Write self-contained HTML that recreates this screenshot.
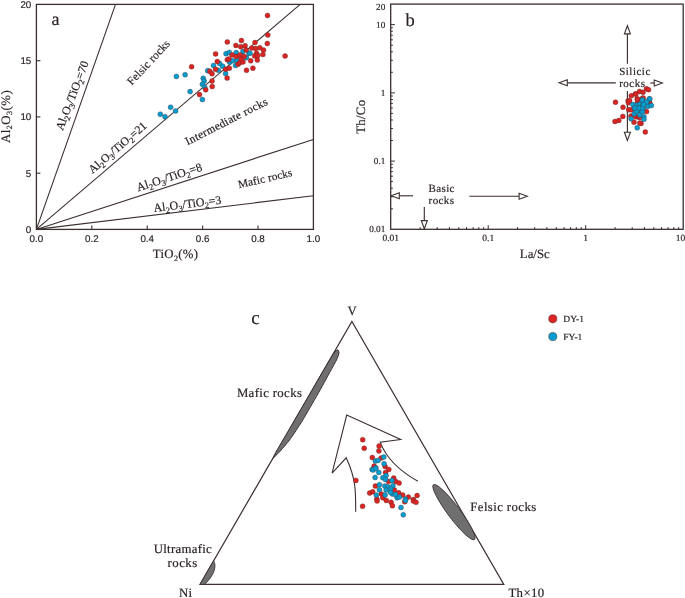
<!DOCTYPE html>
<html><head><meta charset="utf-8"><style>
html,body{margin:0;padding:0;background:#fff;}
svg{display:block;will-change:transform;}
text{text-rendering:geometricPrecision;stroke:#2b2323;stroke-width:0.18px;}

</style></head><body>
<svg width="685" height="598" viewBox="0 0 685 598">
<rect width="685" height="598" fill="#fff"/>
<rect x="36.4" y="4.4" width="277.0" height="225.0" fill="none" stroke="#3b2f2f" stroke-width="1.3"/>
<line x1="91.8" y1="229.4" x2="91.8" y2="225.4" stroke="#3b2f2f" stroke-width="1.1"/>
<line x1="147.2" y1="229.4" x2="147.2" y2="225.4" stroke="#3b2f2f" stroke-width="1.1"/>
<line x1="202.6" y1="229.4" x2="202.6" y2="225.4" stroke="#3b2f2f" stroke-width="1.1"/>
<line x1="258.0" y1="229.4" x2="258.0" y2="225.4" stroke="#3b2f2f" stroke-width="1.1"/>
<line x1="36.4" y1="173.2" x2="40.4" y2="173.2" stroke="#3b2f2f" stroke-width="1.1"/>
<line x1="36.4" y1="116.9" x2="40.4" y2="116.9" stroke="#3b2f2f" stroke-width="1.1"/>
<line x1="36.4" y1="60.7" x2="40.4" y2="60.7" stroke="#3b2f2f" stroke-width="1.1"/>
<line x1="36.4" y1="229.4" x2="115.5" y2="4.4" stroke="#3b2f2f" stroke-width="1.1"/>
<line x1="36.4" y1="229.4" x2="300.2" y2="4.4" stroke="#3b2f2f" stroke-width="1.1"/>
<line x1="36.4" y1="229.4" x2="313.4" y2="139.4" stroke="#3b2f2f" stroke-width="1.1"/>
<line x1="36.4" y1="229.4" x2="313.4" y2="195.7" stroke="#3b2f2f" stroke-width="1.1"/>
<text x="31.3" y="232.9" font-family="Liberation Sans" font-size="9.8" text-anchor="end" fill="#2b2323">0</text>
<text x="31.3" y="176.7" font-family="Liberation Sans" font-size="9.8" text-anchor="end" fill="#2b2323">5</text>
<text x="31.3" y="120.4" font-family="Liberation Sans" font-size="9.8" text-anchor="end" fill="#2b2323">10</text>
<text x="31.3" y="64.2" font-family="Liberation Sans" font-size="9.8" text-anchor="end" fill="#2b2323">15</text>
<text x="31.3" y="7.6" font-family="Liberation Sans" font-size="9.8" text-anchor="end" fill="#2b2323">20</text>
<text x="36.4" y="242" font-family="Liberation Sans" font-size="9.8" text-anchor="middle" fill="#2b2323">0.0</text>
<text x="91.8" y="242" font-family="Liberation Sans" font-size="9.8" text-anchor="middle" fill="#2b2323">0.2</text>
<text x="147.2" y="242" font-family="Liberation Sans" font-size="9.8" text-anchor="middle" fill="#2b2323">0.4</text>
<text x="202.6" y="242" font-family="Liberation Sans" font-size="9.8" text-anchor="middle" fill="#2b2323">0.6</text>
<text x="258.0" y="242" font-family="Liberation Sans" font-size="9.8" text-anchor="middle" fill="#2b2323">0.8</text>
<text x="313.4" y="242" font-family="Liberation Sans" font-size="9.8" text-anchor="middle" fill="#2b2323">1.0</text>
<text x="51.6" y="24.5" font-family="Liberation Serif" font-size="18" fill="#2b2323">a</text>
<text x="175.6" y="258" font-family="Liberation Serif" font-size="12.8" letter-spacing="0.3" text-anchor="middle" fill="#2b2323">TiO<tspan font-size="8" dy="2.5">2</tspan><tspan dy="-2.5">(%)</tspan></text>
<text transform="translate(9.8,116.4) rotate(-90)" font-family="Liberation Serif" font-size="12.8" letter-spacing="0.5" text-anchor="middle" fill="#2b2323">Al<tspan font-size="8" dy="2.5">2</tspan><tspan dy="-2.5">O</tspan><tspan font-size="8" dy="2.5">3</tspan><tspan dy="-2.5">(%)</tspan></text>
<text transform="translate(62.7,131.0) rotate(-69.0)" font-family="Liberation Serif" font-size="11.8" letter-spacing="0" fill="#2b2323">Al<tspan font-size="8.3" dy="2.6">2</tspan><tspan dy="-2.6">O</tspan><tspan font-size="8.3" dy="2.6">3</tspan><tspan dy="-2.6">/TiO</tspan><tspan font-size="8.3" dy="2.6">2</tspan><tspan dy="-2.6">=</tspan><tspan>70</tspan></text>
<text transform="translate(92.5,174.0) rotate(-40.5)" font-family="Liberation Serif" font-size="11.7" letter-spacing="0" fill="#2b2323">Al<tspan font-size="8.2" dy="2.6">2</tspan><tspan dy="-2.6">O</tspan><tspan font-size="8.2" dy="2.6">3</tspan><tspan dy="-2.6">/TiO</tspan><tspan font-size="8.2" dy="2.6">2</tspan><tspan dy="-2.6">=</tspan><tspan>21</tspan></text>
<text transform="translate(138.0,191.5) rotate(-18.0)" font-family="Liberation Serif" font-size="12.0" letter-spacing="0" fill="#2b2323">Al<tspan font-size="8.4" dy="2.6">2</tspan><tspan dy="-2.6">O</tspan><tspan font-size="8.4" dy="2.6">3</tspan><tspan dy="-2.6">/TiO</tspan><tspan font-size="8.4" dy="2.6">2</tspan><tspan dy="-2.6">=</tspan><tspan>8</tspan></text>
<text transform="translate(154.0,212.0) rotate(-7.0)" font-family="Liberation Serif" font-size="12.0" letter-spacing="0" fill="#2b2323">Al<tspan font-size="8.4" dy="2.6">2</tspan><tspan dy="-2.6">O</tspan><tspan font-size="8.4" dy="2.6">3</tspan><tspan dy="-2.6">/TiO</tspan><tspan font-size="8.4" dy="2.6">2</tspan><tspan dy="-2.6">=</tspan><tspan>3</tspan></text>
<text transform="translate(131.8,85.8) rotate(-47)" font-family="Liberation Serif" font-size="11.5" letter-spacing="0.15" fill="#2b2323">Felsic rocks</text>
<text transform="translate(187.6,145.3) rotate(-27)" font-family="Liberation Serif" font-size="11.5" letter-spacing="0.28" fill="#2b2323">Intermediate rocks</text>
<text transform="translate(239,188.3) rotate(-13)" font-family="Liberation Serif" font-size="11.2" letter-spacing="0.15" fill="#2b2323">Mafic rocks</text>
<rect x="390.7" y="4.1" width="292.5" height="225.2" fill="none" stroke="#3b2f2f" stroke-width="1.3"/>
<line x1="420.1" y1="229.3" x2="420.1" y2="227.10000000000002" stroke="#3b2f2f" stroke-width="1"/>
<line x1="390.7" y1="208.8" x2="392.9" y2="208.8" stroke="#3b2f2f" stroke-width="1"/>
<line x1="437.2" y1="229.3" x2="437.2" y2="227.10000000000002" stroke="#3b2f2f" stroke-width="1"/>
<line x1="390.7" y1="196.8" x2="392.9" y2="196.8" stroke="#3b2f2f" stroke-width="1"/>
<line x1="449.4" y1="229.3" x2="449.4" y2="227.10000000000002" stroke="#3b2f2f" stroke-width="1"/>
<line x1="390.7" y1="188.2" x2="392.9" y2="188.2" stroke="#3b2f2f" stroke-width="1"/>
<line x1="458.8" y1="229.3" x2="458.8" y2="227.10000000000002" stroke="#3b2f2f" stroke-width="1"/>
<line x1="390.7" y1="181.6" x2="392.9" y2="181.6" stroke="#3b2f2f" stroke-width="1"/>
<line x1="466.6" y1="229.3" x2="466.6" y2="227.10000000000002" stroke="#3b2f2f" stroke-width="1"/>
<line x1="390.7" y1="176.2" x2="392.9" y2="176.2" stroke="#3b2f2f" stroke-width="1"/>
<line x1="473.1" y1="229.3" x2="473.1" y2="227.10000000000002" stroke="#3b2f2f" stroke-width="1"/>
<line x1="390.7" y1="171.6" x2="392.9" y2="171.6" stroke="#3b2f2f" stroke-width="1"/>
<line x1="478.8" y1="229.3" x2="478.8" y2="227.10000000000002" stroke="#3b2f2f" stroke-width="1"/>
<line x1="390.7" y1="167.7" x2="392.9" y2="167.7" stroke="#3b2f2f" stroke-width="1"/>
<line x1="483.7" y1="229.3" x2="483.7" y2="227.10000000000002" stroke="#3b2f2f" stroke-width="1"/>
<line x1="390.7" y1="164.2" x2="392.9" y2="164.2" stroke="#3b2f2f" stroke-width="1"/>
<line x1="488.2" y1="229.3" x2="488.2" y2="225.10000000000002" stroke="#3b2f2f" stroke-width="1"/>
<line x1="390.7" y1="161.1" x2="394.9" y2="161.1" stroke="#3b2f2f" stroke-width="1"/>
<line x1="517.6" y1="229.3" x2="517.6" y2="227.10000000000002" stroke="#3b2f2f" stroke-width="1"/>
<line x1="390.7" y1="140.5" x2="392.9" y2="140.5" stroke="#3b2f2f" stroke-width="1"/>
<line x1="534.7" y1="229.3" x2="534.7" y2="227.10000000000002" stroke="#3b2f2f" stroke-width="1"/>
<line x1="390.7" y1="128.5" x2="392.9" y2="128.5" stroke="#3b2f2f" stroke-width="1"/>
<line x1="546.9" y1="229.3" x2="546.9" y2="227.10000000000002" stroke="#3b2f2f" stroke-width="1"/>
<line x1="390.7" y1="120.0" x2="392.9" y2="120.0" stroke="#3b2f2f" stroke-width="1"/>
<line x1="556.3" y1="229.3" x2="556.3" y2="227.10000000000002" stroke="#3b2f2f" stroke-width="1"/>
<line x1="390.7" y1="113.4" x2="392.9" y2="113.4" stroke="#3b2f2f" stroke-width="1"/>
<line x1="564.1" y1="229.3" x2="564.1" y2="227.10000000000002" stroke="#3b2f2f" stroke-width="1"/>
<line x1="390.7" y1="108.0" x2="392.9" y2="108.0" stroke="#3b2f2f" stroke-width="1"/>
<line x1="570.6" y1="229.3" x2="570.6" y2="227.10000000000002" stroke="#3b2f2f" stroke-width="1"/>
<line x1="390.7" y1="103.4" x2="392.9" y2="103.4" stroke="#3b2f2f" stroke-width="1"/>
<line x1="576.3" y1="229.3" x2="576.3" y2="227.10000000000002" stroke="#3b2f2f" stroke-width="1"/>
<line x1="390.7" y1="99.5" x2="392.9" y2="99.5" stroke="#3b2f2f" stroke-width="1"/>
<line x1="581.2" y1="229.3" x2="581.2" y2="227.10000000000002" stroke="#3b2f2f" stroke-width="1"/>
<line x1="390.7" y1="96.0" x2="392.9" y2="96.0" stroke="#3b2f2f" stroke-width="1"/>
<line x1="585.7" y1="229.3" x2="585.7" y2="225.10000000000002" stroke="#3b2f2f" stroke-width="1"/>
<line x1="390.7" y1="92.9" x2="394.9" y2="92.9" stroke="#3b2f2f" stroke-width="1"/>
<line x1="615.1" y1="229.3" x2="615.1" y2="227.10000000000002" stroke="#3b2f2f" stroke-width="1"/>
<line x1="390.7" y1="72.3" x2="392.9" y2="72.3" stroke="#3b2f2f" stroke-width="1"/>
<line x1="632.2" y1="229.3" x2="632.2" y2="227.10000000000002" stroke="#3b2f2f" stroke-width="1"/>
<line x1="390.7" y1="60.3" x2="392.9" y2="60.3" stroke="#3b2f2f" stroke-width="1"/>
<line x1="644.4" y1="229.3" x2="644.4" y2="227.10000000000002" stroke="#3b2f2f" stroke-width="1"/>
<line x1="390.7" y1="51.8" x2="392.9" y2="51.8" stroke="#3b2f2f" stroke-width="1"/>
<line x1="653.8" y1="229.3" x2="653.8" y2="227.10000000000002" stroke="#3b2f2f" stroke-width="1"/>
<line x1="390.7" y1="45.2" x2="392.9" y2="45.2" stroke="#3b2f2f" stroke-width="1"/>
<line x1="661.6" y1="229.3" x2="661.6" y2="227.10000000000002" stroke="#3b2f2f" stroke-width="1"/>
<line x1="390.7" y1="39.8" x2="392.9" y2="39.8" stroke="#3b2f2f" stroke-width="1"/>
<line x1="668.1" y1="229.3" x2="668.1" y2="227.10000000000002" stroke="#3b2f2f" stroke-width="1"/>
<line x1="390.7" y1="35.2" x2="392.9" y2="35.2" stroke="#3b2f2f" stroke-width="1"/>
<line x1="673.8" y1="229.3" x2="673.8" y2="227.10000000000002" stroke="#3b2f2f" stroke-width="1"/>
<line x1="390.7" y1="31.2" x2="392.9" y2="31.2" stroke="#3b2f2f" stroke-width="1"/>
<line x1="678.7" y1="229.3" x2="678.7" y2="227.10000000000002" stroke="#3b2f2f" stroke-width="1"/>
<line x1="390.7" y1="27.8" x2="392.9" y2="27.8" stroke="#3b2f2f" stroke-width="1"/>
<line x1="390.7" y1="24.6" x2="394.9" y2="24.6" stroke="#3b2f2f" stroke-width="1"/>
<text x="385.3" y="232.3" font-family="Liberation Serif" font-size="9.2" text-anchor="end" fill="#2b2323">0.01</text>
<text x="385.3" y="164.1" font-family="Liberation Serif" font-size="9.2" text-anchor="end" fill="#2b2323">0.1</text>
<text x="385.3" y="95.9" font-family="Liberation Serif" font-size="9.2" text-anchor="end" fill="#2b2323">1</text>
<text x="385.3" y="27.6" font-family="Liberation Serif" font-size="9.2" text-anchor="end" fill="#2b2323">10</text>
<text x="385.3" y="10.3" font-family="Liberation Serif" font-size="9.2" text-anchor="end" fill="#2b2323">20</text>
<text x="390.7" y="241" font-family="Liberation Serif" font-size="9.5" text-anchor="middle" fill="#2b2323">0.01</text>
<text x="488.2" y="241" font-family="Liberation Serif" font-size="9.5" text-anchor="middle" fill="#2b2323">0.1</text>
<text x="585.7" y="241" font-family="Liberation Serif" font-size="9.5" text-anchor="middle" fill="#2b2323">1</text>
<text x="680.5" y="241" font-family="Liberation Serif" font-size="9.5" text-anchor="middle" fill="#2b2323">10</text>
<text x="405.5" y="26.3" font-family="Liberation Serif" font-size="18.5" fill="#2b2323">b</text>
<text x="534.8" y="258.1" font-family="Liberation Serif" font-size="12.8" text-anchor="middle" fill="#2b2323">La/Sc</text>
<text transform="translate(364.7,116.7) rotate(-90)" font-family="Liberation Serif" font-size="12.8" letter-spacing="0.3" text-anchor="middle" fill="#2b2323">Th/Co</text>
<line x1="627.4" y1="63.8" x2="627.4" y2="33.9" stroke="#3b2f2f" stroke-width="1.15"/><polygon points="627.4,25.7 630.4,33.9 624.4,33.9" fill="#fff" stroke="#3b2f2f" stroke-width="1.1" stroke-linejoin="miter"/>
<line x1="615.8" y1="82.8" x2="567.3" y2="82.8" stroke="#3b2f2f" stroke-width="1.15"/><polygon points="559.1,82.8 567.3,79.8 567.3,85.8" fill="#fff" stroke="#3b2f2f" stroke-width="1.1" stroke-linejoin="miter"/>
<line x1="650.3" y1="83" x2="654.2" y2="83.0" stroke="#3b2f2f" stroke-width="1.15"/><polygon points="662.4,83 654.2,86.0 654.2,80.0" fill="#fff" stroke="#3b2f2f" stroke-width="1.1" stroke-linejoin="miter"/>
<line x1="627.4" y1="91.1" x2="627.4" y2="132.3" stroke="#3b2f2f" stroke-width="1.15"/><polygon points="627.4,140.5 624.4,132.3 630.4,132.3" fill="#fff" stroke="#3b2f2f" stroke-width="1.1" stroke-linejoin="miter"/>
<line x1="413" y1="195.8" x2="399.3" y2="195.8" stroke="#3b2f2f" stroke-width="1.15"/><polygon points="391.1,195.8 399.3,192.8 399.3,198.8" fill="#fff" stroke="#3b2f2f" stroke-width="1.1" stroke-linejoin="miter"/>
<line x1="469.3" y1="196.2" x2="519.1" y2="196.2" stroke="#3b2f2f" stroke-width="1.15"/><polygon points="527.3,196.2 519.1,199.2 519.1,193.2" fill="#fff" stroke="#3b2f2f" stroke-width="1.1" stroke-linejoin="miter"/>
<line x1="424.3" y1="207.1" x2="424.3" y2="220.6" stroke="#3b2f2f" stroke-width="1.15"/><polygon points="424.3,228.8 421.3,220.6 427.3,220.6" fill="#fff" stroke="#3b2f2f" stroke-width="1.1" stroke-linejoin="miter"/>
<text x="619.2" y="74.8" font-family="Liberation Serif" font-size="11" letter-spacing="0.5" fill="#2b2323">Silicic</text>
<text x="619.2" y="86.7" font-family="Liberation Serif" font-size="11" letter-spacing="0.5" fill="#2b2323">rocks</text>
<text x="428.6" y="191.8" font-family="Liberation Serif" font-size="11" letter-spacing="0.35" fill="#2b2323">Basic</text>
<text x="428.6" y="204" font-family="Liberation Serif" font-size="11" letter-spacing="0.4" fill="#2b2323">rocks</text>
<text x="251.3" y="324.2" font-family="Liberation Serif" font-size="19" fill="#2b2323">c</text>
<text x="352.2" y="315" font-family="Liberation Serif" font-size="12.8" text-anchor="middle" fill="#2b2323">V</text>
<text x="185.7" y="597" font-family="Liberation Serif" font-size="12.8" letter-spacing="0.4" text-anchor="middle" fill="#2b2323">Ni</text>
<text x="508.4" y="596.8" font-family="Liberation Serif" font-size="12.8" letter-spacing="0.4" fill="#2b2323">Th×10</text>
<text x="182.9" y="553" font-family="Liberation Serif" font-size="12.8" letter-spacing="0.3" text-anchor="middle" fill="#2b2323">Ultramafic</text>
<text x="182.6" y="566.5" font-family="Liberation Serif" font-size="12.8" letter-spacing="0.5" text-anchor="middle" fill="#2b2323">rocks</text>
<text x="236.9" y="397.3" font-family="Liberation Serif" font-size="12.8" letter-spacing="0.35" fill="#2b2323">Mafic rocks</text>
<text x="470.3" y="510.8" font-family="Liberation Serif" font-size="12.8" letter-spacing="0.4" fill="#2b2323">Felsic rocks</text>
<polygon points="200.0,584.4 503.8,584.4 351.9,321.5" fill="none" stroke="#3b2f2f" stroke-width="1.2" stroke-linejoin="miter"/>
<path d="M337.88,349.76 L339.02,352.26 L338.72,353.94 L338.37,355.58 L337.73,357.06 L337.09,358.53 L336.45,360.01 L335.76,361.46 L334.99,362.86 L334.22,364.26 L333.45,365.66 L332.68,367.07 L331.91,368.47 L331.14,369.87 L330.37,371.27 L329.60,372.67 L328.83,374.08 L328.06,375.48 L327.29,376.88 L326.53,378.29 L325.77,379.69 L325.01,381.10 L324.24,382.50 L323.48,383.91 L322.72,385.32 L321.95,386.72 L321.19,388.13 L320.43,389.53 L319.63,390.92 L318.83,392.31 L318.03,393.69 L317.23,395.08 L316.43,396.46 L315.63,397.84 L314.83,399.23 L314.03,400.61 L313.23,402.00 L312.43,403.38 L311.63,404.77 L310.83,406.15 L310.03,407.54 L309.23,408.92 L308.43,410.31 L307.63,411.69 L306.83,413.07 L306.03,414.46 L305.23,415.84 L304.43,417.23 L303.63,418.61 L302.83,420.00 L301.97,421.34 L301.10,422.69 L300.23,424.03 L299.36,425.38 L298.49,426.72 L297.62,428.07 L296.75,429.41 L295.88,430.75 L295.02,432.10 L294.15,433.44 L293.28,434.79 L292.36,436.11 L291.42,437.41 L290.48,438.71 L289.54,440.02 L288.61,441.32 L287.58,442.58 L286.52,443.81 L285.45,445.04 L284.38,446.27 L283.32,447.50 L282.25,448.73 L281.19,449.96 L280.11,451.19 L278.98,452.38 L277.86,453.58 L276.73,454.77 L275.54,455.93 L274.32,457.08 L273.11,458.22 L273.64,456.68 L274.36,455.25 L275.08,453.82 L275.79,452.39 L276.52,450.96 L277.33,449.58 L278.15,448.21 L278.96,446.83 L279.77,445.45 L280.59,444.08 L281.40,442.70 L282.22,441.32 L283.03,439.95 L283.84,438.57 L284.66,437.19 L285.47,435.82 L286.28,434.44 L287.09,433.06 L287.90,431.68 L288.70,430.30 L289.51,428.92 L290.31,427.53 L291.12,426.15 L291.92,424.77 L292.73,423.39 L293.53,422.01 L294.33,420.63 L295.14,419.24 L295.94,417.86 L296.75,416.48 L297.55,415.10 L298.36,413.72 L299.16,412.33 L299.97,410.95 L300.77,409.57 L301.58,408.19 L302.38,406.81 L303.18,405.42 L303.99,404.04 L304.79,402.66 L305.59,401.28 L306.40,399.89 L307.20,398.51 L308.00,397.13 L308.81,395.75 L309.61,394.36 L310.41,392.98 L311.22,391.60 L312.02,390.22 L312.82,388.83 L313.63,387.45 L314.43,386.07 L315.24,384.69 L316.04,383.30 L316.84,381.92 L317.65,380.54 L318.45,379.16 L319.25,377.77 L320.06,376.39 L320.86,375.01 L321.66,373.63 L322.47,372.25 L323.28,370.87 L324.08,369.49 L324.89,368.10 L325.70,366.72 L326.50,365.34 L327.31,363.96 L328.12,362.58 L328.92,361.20 L329.73,359.82 L330.54,358.44 L331.35,357.06 L332.19,355.70 L333.13,354.40 L334.07,353.10 L335.01,351.79 L336.31,350.69 Z" fill="#6f6f6f" stroke="#3b2f2f" stroke-width="1.0" stroke-linejoin="round"/>
<ellipse cx="453.95" cy="512.15" rx="34.3" ry="6.2" transform="rotate(53.2 453.95 512.15)" fill="#6f6f6f" stroke="#3b2f2f" stroke-width="0.8"/>
<path d="M200.0,584.4 L213.6,560.75 C216.5,565 215.5,574 204.8,584.4 Z" fill="#6f6f6f" stroke="#3b2f2f" stroke-width="0.8"/>
<path d="M355.7,511.7 C355.7,500 355.5,492 354.8,486 C353.8,478 350.5,467 346.2,457.8 L332.1,473.2 L346.7,415 L400.7,439.5 L380.2,442.1 C386,458 398,470 417.9,481.3" fill="none" stroke="#3b2f2f" stroke-width="1.1" stroke-linejoin="miter"/>
<circle cx="176.4" cy="76.4" r="2.5" fill="#059dd0" stroke="#4a2c2c" stroke-width="0.35"/>
<circle cx="185.1" cy="74.7" r="2.5" fill="#059dd0" stroke="#4a2c2c" stroke-width="0.35"/>
<circle cx="207.7" cy="70.7" r="2.5" fill="#059dd0" stroke="#4a2c2c" stroke-width="0.35"/>
<circle cx="203.2" cy="78.3" r="2.5" fill="#059dd0" stroke="#4a2c2c" stroke-width="0.35"/>
<circle cx="204.2" cy="81.1" r="2.5" fill="#059dd0" stroke="#4a2c2c" stroke-width="0.35"/>
<circle cx="202.4" cy="84.3" r="2.5" fill="#059dd0" stroke="#4a2c2c" stroke-width="0.35"/>
<circle cx="204.7" cy="87.3" r="2.5" fill="#059dd0" stroke="#4a2c2c" stroke-width="0.35"/>
<circle cx="190.1" cy="91.6" r="2.5" fill="#059dd0" stroke="#4a2c2c" stroke-width="0.35"/>
<circle cx="202.4" cy="99.6" r="2.5" fill="#059dd0" stroke="#4a2c2c" stroke-width="0.35"/>
<circle cx="170.6" cy="107.2" r="2.5" fill="#059dd0" stroke="#4a2c2c" stroke-width="0.35"/>
<circle cx="175.6" cy="111" r="2.5" fill="#059dd0" stroke="#4a2c2c" stroke-width="0.35"/>
<circle cx="160.3" cy="114.2" r="2.5" fill="#059dd0" stroke="#4a2c2c" stroke-width="0.35"/>
<circle cx="165" cy="116.7" r="2.5" fill="#059dd0" stroke="#4a2c2c" stroke-width="0.35"/>
<circle cx="213.5" cy="65.5" r="2.5" fill="#059dd0" stroke="#4a2c2c" stroke-width="0.35"/>
<circle cx="219.6" cy="63.5" r="2.5" fill="#059dd0" stroke="#4a2c2c" stroke-width="0.35"/>
<circle cx="222.6" cy="66.2" r="2.5" fill="#059dd0" stroke="#4a2c2c" stroke-width="0.35"/>
<circle cx="218.3" cy="70.3" r="2.5" fill="#059dd0" stroke="#4a2c2c" stroke-width="0.35"/>
<circle cx="225.6" cy="73.5" r="2.5" fill="#059dd0" stroke="#4a2c2c" stroke-width="0.35"/>
<circle cx="229.7" cy="62.2" r="2.5" fill="#059dd0" stroke="#4a2c2c" stroke-width="0.35"/>
<circle cx="232.5" cy="60.8" r="2.5" fill="#059dd0" stroke="#4a2c2c" stroke-width="0.35"/>
<circle cx="235.5" cy="65.5" r="2.5" fill="#059dd0" stroke="#4a2c2c" stroke-width="0.35"/>
<circle cx="226" cy="53.7" r="2.5" fill="#059dd0" stroke="#4a2c2c" stroke-width="0.35"/>
<circle cx="229.3" cy="52.4" r="2.5" fill="#059dd0" stroke="#4a2c2c" stroke-width="0.35"/>
<circle cx="236.2" cy="52.6" r="2.5" fill="#059dd0" stroke="#4a2c2c" stroke-width="0.35"/>
<circle cx="242.9" cy="51.5" r="2.5" fill="#059dd0" stroke="#4a2c2c" stroke-width="0.35"/>
<circle cx="249" cy="53.3" r="2.5" fill="#059dd0" stroke="#4a2c2c" stroke-width="0.35"/>
<circle cx="246.4" cy="57.7" r="2.5" fill="#059dd0" stroke="#4a2c2c" stroke-width="0.35"/>
<circle cx="236.8" cy="60.5" r="2.5" fill="#059dd0" stroke="#4a2c2c" stroke-width="0.35"/>
<circle cx="250" cy="53.2" r="2.5" fill="#059dd0" stroke="#4a2c2c" stroke-width="0.35"/>
<circle cx="191.6" cy="66.7" r="2.5" fill="#da2523" stroke="#4a2c2c" stroke-width="0.35"/>
<circle cx="205.7" cy="89.8" r="2.5" fill="#da2523" stroke="#4a2c2c" stroke-width="0.35"/>
<circle cx="199.5" cy="94.6" r="2.5" fill="#da2523" stroke="#4a2c2c" stroke-width="0.35"/>
<circle cx="217.3" cy="61.5" r="2.5" fill="#da2523" stroke="#4a2c2c" stroke-width="0.35"/>
<circle cx="215.6" cy="69.2" r="2.5" fill="#da2523" stroke="#4a2c2c" stroke-width="0.35"/>
<circle cx="209.8" cy="71.2" r="2.5" fill="#da2523" stroke="#4a2c2c" stroke-width="0.35"/>
<circle cx="212" cy="73.7" r="2.5" fill="#da2523" stroke="#4a2c2c" stroke-width="0.35"/>
<circle cx="225.6" cy="69.3" r="2.5" fill="#da2523" stroke="#4a2c2c" stroke-width="0.35"/>
<circle cx="229.3" cy="68.2" r="2.5" fill="#da2523" stroke="#4a2c2c" stroke-width="0.35"/>
<circle cx="227.1" cy="78.1" r="2.5" fill="#da2523" stroke="#4a2c2c" stroke-width="0.35"/>
<circle cx="212" cy="81.1" r="2.5" fill="#da2523" stroke="#4a2c2c" stroke-width="0.35"/>
<circle cx="212.2" cy="86.6" r="2.5" fill="#da2523" stroke="#4a2c2c" stroke-width="0.35"/>
<circle cx="238" cy="64.3" r="2.5" fill="#da2523" stroke="#4a2c2c" stroke-width="0.35"/>
<circle cx="239.8" cy="62.8" r="2.5" fill="#da2523" stroke="#4a2c2c" stroke-width="0.35"/>
<circle cx="243" cy="62" r="2.5" fill="#da2523" stroke="#4a2c2c" stroke-width="0.35"/>
<circle cx="250.7" cy="60.8" r="2.5" fill="#da2523" stroke="#4a2c2c" stroke-width="0.35"/>
<circle cx="257.3" cy="60" r="2.5" fill="#da2523" stroke="#4a2c2c" stroke-width="0.35"/>
<circle cx="246.5" cy="70.3" r="2.5" fill="#da2523" stroke="#4a2c2c" stroke-width="0.35"/>
<circle cx="252.9" cy="68.2" r="2.5" fill="#da2523" stroke="#4a2c2c" stroke-width="0.35"/>
<circle cx="227.3" cy="41.9" r="2.5" fill="#da2523" stroke="#4a2c2c" stroke-width="0.35"/>
<circle cx="241.4" cy="40.6" r="2.5" fill="#da2523" stroke="#4a2c2c" stroke-width="0.35"/>
<circle cx="235.9" cy="45.4" r="2.5" fill="#da2523" stroke="#4a2c2c" stroke-width="0.35"/>
<circle cx="240.7" cy="46.7" r="2.5" fill="#da2523" stroke="#4a2c2c" stroke-width="0.35"/>
<circle cx="245.1" cy="45.8" r="2.5" fill="#da2523" stroke="#4a2c2c" stroke-width="0.35"/>
<circle cx="246.1" cy="49.9" r="2.5" fill="#da2523" stroke="#4a2c2c" stroke-width="0.35"/>
<circle cx="255" cy="42.6" r="2.5" fill="#da2523" stroke="#4a2c2c" stroke-width="0.35"/>
<circle cx="251.7" cy="48" r="2.5" fill="#da2523" stroke="#4a2c2c" stroke-width="0.35"/>
<circle cx="255.6" cy="48.6" r="2.5" fill="#da2523" stroke="#4a2c2c" stroke-width="0.35"/>
<circle cx="259.8" cy="47.8" r="2.5" fill="#da2523" stroke="#4a2c2c" stroke-width="0.35"/>
<circle cx="215.6" cy="53.9" r="2.5" fill="#da2523" stroke="#4a2c2c" stroke-width="0.35"/>
<circle cx="232.1" cy="55" r="2.5" fill="#da2523" stroke="#4a2c2c" stroke-width="0.35"/>
<circle cx="236.2" cy="56.6" r="2.5" fill="#da2523" stroke="#4a2c2c" stroke-width="0.35"/>
<circle cx="240.1" cy="55" r="2.5" fill="#da2523" stroke="#4a2c2c" stroke-width="0.35"/>
<circle cx="244.2" cy="56.6" r="2.5" fill="#da2523" stroke="#4a2c2c" stroke-width="0.35"/>
<circle cx="241.2" cy="59" r="2.5" fill="#da2523" stroke="#4a2c2c" stroke-width="0.35"/>
<circle cx="256.5" cy="53.3" r="2.5" fill="#da2523" stroke="#4a2c2c" stroke-width="0.35"/>
<circle cx="254.7" cy="55.9" r="2.5" fill="#da2523" stroke="#4a2c2c" stroke-width="0.35"/>
<circle cx="257.8" cy="55.5" r="2.5" fill="#da2523" stroke="#4a2c2c" stroke-width="0.35"/>
<circle cx="227.3" cy="59.8" r="2.5" fill="#da2523" stroke="#4a2c2c" stroke-width="0.35"/>
<circle cx="228.9" cy="59" r="2.5" fill="#da2523" stroke="#4a2c2c" stroke-width="0.35"/>
<circle cx="267.5" cy="15.4" r="2.5" fill="#da2523" stroke="#4a2c2c" stroke-width="0.35"/>
<circle cx="267.8" cy="34.9" r="2.5" fill="#da2523" stroke="#4a2c2c" stroke-width="0.35"/>
<circle cx="267.3" cy="43.5" r="2.5" fill="#da2523" stroke="#4a2c2c" stroke-width="0.35"/>
<circle cx="263.5" cy="50.1" r="2.5" fill="#da2523" stroke="#4a2c2c" stroke-width="0.35"/>
<circle cx="262.9" cy="54.4" r="2.5" fill="#da2523" stroke="#4a2c2c" stroke-width="0.35"/>
<circle cx="285.1" cy="55.9" r="2.5" fill="#da2523" stroke="#4a2c2c" stroke-width="0.35"/>
<circle cx="615.5" cy="102.2" r="2.5" fill="#da2523" stroke="#4a2c2c" stroke-width="0.35"/>
<circle cx="623" cy="107.2" r="2.5" fill="#da2523" stroke="#4a2c2c" stroke-width="0.35"/>
<circle cx="628.1" cy="100.8" r="2.5" fill="#da2523" stroke="#4a2c2c" stroke-width="0.35"/>
<circle cx="628.4" cy="102.8" r="2.5" fill="#da2523" stroke="#4a2c2c" stroke-width="0.35"/>
<circle cx="629.6" cy="100.8" r="2.5" fill="#da2523" stroke="#4a2c2c" stroke-width="0.35"/>
<circle cx="631.3" cy="95.8" r="2.5" fill="#da2523" stroke="#4a2c2c" stroke-width="0.35"/>
<circle cx="635.4" cy="93.9" r="2.5" fill="#da2523" stroke="#4a2c2c" stroke-width="0.35"/>
<circle cx="639.5" cy="91.4" r="2.5" fill="#da2523" stroke="#4a2c2c" stroke-width="0.35"/>
<circle cx="643" cy="92.3" r="2.5" fill="#da2523" stroke="#4a2c2c" stroke-width="0.35"/>
<circle cx="646.5" cy="88.8" r="2.5" fill="#da2523" stroke="#4a2c2c" stroke-width="0.35"/>
<circle cx="648.5" cy="89.7" r="2.5" fill="#da2523" stroke="#4a2c2c" stroke-width="0.35"/>
<circle cx="637.2" cy="99" r="2.5" fill="#da2523" stroke="#4a2c2c" stroke-width="0.35"/>
<circle cx="642.4" cy="98.4" r="2.5" fill="#da2523" stroke="#4a2c2c" stroke-width="0.35"/>
<circle cx="649.7" cy="103.1" r="2.5" fill="#da2523" stroke="#4a2c2c" stroke-width="0.35"/>
<circle cx="628.7" cy="109.8" r="2.5" fill="#da2523" stroke="#4a2c2c" stroke-width="0.35"/>
<circle cx="631" cy="109.8" r="2.5" fill="#da2523" stroke="#4a2c2c" stroke-width="0.35"/>
<circle cx="646.5" cy="111.6" r="2.5" fill="#da2523" stroke="#4a2c2c" stroke-width="0.35"/>
<circle cx="637.4" cy="102.5" r="2.5" fill="#da2523" stroke="#4a2c2c" stroke-width="0.35"/>
<circle cx="622.8" cy="116.4" r="2.5" fill="#da2523" stroke="#4a2c2c" stroke-width="0.35"/>
<circle cx="618.8" cy="120.5" r="2.5" fill="#da2523" stroke="#4a2c2c" stroke-width="0.35"/>
<circle cx="615" cy="121.4" r="2.5" fill="#da2523" stroke="#4a2c2c" stroke-width="0.35"/>
<circle cx="631" cy="116.1" r="2.5" fill="#da2523" stroke="#4a2c2c" stroke-width="0.35"/>
<circle cx="634" cy="122.2" r="2.5" fill="#da2523" stroke="#4a2c2c" stroke-width="0.35"/>
<circle cx="641" cy="123.4" r="2.5" fill="#da2523" stroke="#4a2c2c" stroke-width="0.35"/>
<circle cx="639.8" cy="123.1" r="2.5" fill="#da2523" stroke="#4a2c2c" stroke-width="0.35"/>
<circle cx="645.3" cy="131.9" r="2.5" fill="#da2523" stroke="#4a2c2c" stroke-width="0.35"/>
<circle cx="635.7" cy="116.7" r="2.5" fill="#da2523" stroke="#4a2c2c" stroke-width="0.35"/>
<circle cx="638.6" cy="117.3" r="2.5" fill="#da2523" stroke="#4a2c2c" stroke-width="0.35"/>
<circle cx="640.4" cy="117.3" r="2.5" fill="#da2523" stroke="#4a2c2c" stroke-width="0.35"/>
<circle cx="635.8" cy="94.1" r="2.5" fill="#da2523" stroke="#4a2c2c" stroke-width="0.35"/>
<circle cx="637.6" cy="99" r="2.5" fill="#da2523" stroke="#4a2c2c" stroke-width="0.35"/>
<circle cx="643.2" cy="98" r="2.5" fill="#da2523" stroke="#4a2c2c" stroke-width="0.35"/>
<circle cx="649.6" cy="103" r="2.5" fill="#da2523" stroke="#4a2c2c" stroke-width="0.35"/>
<circle cx="642.4" cy="99.9" r="2.5" fill="#059dd0" stroke="#4a2c2c" stroke-width="0.35"/>
<circle cx="649.4" cy="98.7" r="2.5" fill="#059dd0" stroke="#4a2c2c" stroke-width="0.35"/>
<circle cx="632.8" cy="104.6" r="2.5" fill="#059dd0" stroke="#4a2c2c" stroke-width="0.35"/>
<circle cx="636.9" cy="104.9" r="2.5" fill="#059dd0" stroke="#4a2c2c" stroke-width="0.35"/>
<circle cx="639.8" cy="104.3" r="2.5" fill="#059dd0" stroke="#4a2c2c" stroke-width="0.35"/>
<circle cx="643.3" cy="104.3" r="2.5" fill="#059dd0" stroke="#4a2c2c" stroke-width="0.35"/>
<circle cx="646.5" cy="101.9" r="2.5" fill="#059dd0" stroke="#4a2c2c" stroke-width="0.35"/>
<circle cx="648" cy="105.7" r="2.5" fill="#059dd0" stroke="#4a2c2c" stroke-width="0.35"/>
<circle cx="634.5" cy="108.4" r="2.5" fill="#059dd0" stroke="#4a2c2c" stroke-width="0.35"/>
<circle cx="639.8" cy="107.8" r="2.5" fill="#059dd0" stroke="#4a2c2c" stroke-width="0.35"/>
<circle cx="643.3" cy="108.4" r="2.5" fill="#059dd0" stroke="#4a2c2c" stroke-width="0.35"/>
<circle cx="636.3" cy="111.3" r="2.5" fill="#059dd0" stroke="#4a2c2c" stroke-width="0.35"/>
<circle cx="641.5" cy="111.3" r="2.5" fill="#059dd0" stroke="#4a2c2c" stroke-width="0.35"/>
<circle cx="631.1" cy="118.7" r="2.5" fill="#059dd0" stroke="#4a2c2c" stroke-width="0.35"/>
<circle cx="637.2" cy="127.8" r="2.5" fill="#059dd0" stroke="#4a2c2c" stroke-width="0.35"/>
<circle cx="634.2" cy="113.8" r="2.5" fill="#059dd0" stroke="#4a2c2c" stroke-width="0.35"/>
<circle cx="636.6" cy="111.4" r="2.5" fill="#059dd0" stroke="#4a2c2c" stroke-width="0.35"/>
<circle cx="639.8" cy="114.9" r="2.5" fill="#059dd0" stroke="#4a2c2c" stroke-width="0.35"/>
<circle cx="642.4" cy="111.7" r="2.5" fill="#059dd0" stroke="#4a2c2c" stroke-width="0.35"/>
<circle cx="643.9" cy="116.7" r="2.5" fill="#059dd0" stroke="#4a2c2c" stroke-width="0.35"/>
<circle cx="643.9" cy="119.3" r="2.5" fill="#059dd0" stroke="#4a2c2c" stroke-width="0.35"/>
<circle cx="635.1" cy="107.9" r="2.5" fill="#059dd0" stroke="#4a2c2c" stroke-width="0.35"/>
<circle cx="639.2" cy="107.9" r="2.5" fill="#059dd0" stroke="#4a2c2c" stroke-width="0.35"/>
<circle cx="642.7" cy="107.9" r="2.5" fill="#059dd0" stroke="#4a2c2c" stroke-width="0.35"/>
<circle cx="648" cy="106.2" r="2.5" fill="#059dd0" stroke="#4a2c2c" stroke-width="0.35"/>
<circle cx="649.8" cy="99" r="2.5" fill="#059dd0" stroke="#4a2c2c" stroke-width="0.35"/>
<circle cx="642.4" cy="100" r="2.5" fill="#059dd0" stroke="#4a2c2c" stroke-width="0.35"/>
<circle cx="646.5" cy="102" r="2.5" fill="#059dd0" stroke="#4a2c2c" stroke-width="0.35"/>
<circle cx="651.4" cy="105.6" r="2.5" fill="#059dd0" stroke="#4a2c2c" stroke-width="0.35"/>
<circle cx="643.7" cy="104.6" r="2.5" fill="#059dd0" stroke="#4a2c2c" stroke-width="0.35"/>
<circle cx="362.7" cy="439.7" r="2.5" fill="#da2523" stroke="#4a2c2c" stroke-width="0.35"/>
<circle cx="364.2" cy="448.3" r="2.5" fill="#da2523" stroke="#4a2c2c" stroke-width="0.35"/>
<circle cx="379.1" cy="446.1" r="2.5" fill="#da2523" stroke="#4a2c2c" stroke-width="0.35"/>
<circle cx="378.9" cy="450.9" r="2.5" fill="#da2523" stroke="#4a2c2c" stroke-width="0.35"/>
<circle cx="372.3" cy="457.6" r="2.5" fill="#da2523" stroke="#4a2c2c" stroke-width="0.35"/>
<circle cx="381.1" cy="458.1" r="2.5" fill="#da2523" stroke="#4a2c2c" stroke-width="0.35"/>
<circle cx="385.1" cy="466.5" r="2.5" fill="#da2523" stroke="#4a2c2c" stroke-width="0.35"/>
<circle cx="374.1" cy="466.1" r="2.5" fill="#da2523" stroke="#4a2c2c" stroke-width="0.35"/>
<circle cx="388.8" cy="469.5" r="2.5" fill="#da2523" stroke="#4a2c2c" stroke-width="0.35"/>
<circle cx="355.9" cy="480.4" r="2.5" fill="#da2523" stroke="#4a2c2c" stroke-width="0.35"/>
<circle cx="385.5" cy="472.4" r="2.5" fill="#da2523" stroke="#4a2c2c" stroke-width="0.35"/>
<circle cx="388.5" cy="481.4" r="2.5" fill="#da2523" stroke="#4a2c2c" stroke-width="0.35"/>
<circle cx="375.4" cy="486.1" r="2.5" fill="#da2523" stroke="#4a2c2c" stroke-width="0.35"/>
<circle cx="369.7" cy="493.1" r="2.5" fill="#da2523" stroke="#4a2c2c" stroke-width="0.35"/>
<circle cx="372.7" cy="491.8" r="2.5" fill="#da2523" stroke="#4a2c2c" stroke-width="0.35"/>
<circle cx="381.4" cy="494.1" r="2.5" fill="#da2523" stroke="#4a2c2c" stroke-width="0.35"/>
<circle cx="376.8" cy="499.1" r="2.5" fill="#da2523" stroke="#4a2c2c" stroke-width="0.35"/>
<circle cx="382.8" cy="497.8" r="2.5" fill="#da2523" stroke="#4a2c2c" stroke-width="0.35"/>
<circle cx="393.7" cy="478.1" r="2.5" fill="#da2523" stroke="#4a2c2c" stroke-width="0.35"/>
<circle cx="395.7" cy="481.4" r="2.5" fill="#da2523" stroke="#4a2c2c" stroke-width="0.35"/>
<circle cx="399.1" cy="483.1" r="2.5" fill="#da2523" stroke="#4a2c2c" stroke-width="0.35"/>
<circle cx="394.4" cy="490.1" r="2.5" fill="#da2523" stroke="#4a2c2c" stroke-width="0.35"/>
<circle cx="398.7" cy="492.8" r="2.5" fill="#da2523" stroke="#4a2c2c" stroke-width="0.35"/>
<circle cx="402.7" cy="495.1" r="2.5" fill="#da2523" stroke="#4a2c2c" stroke-width="0.35"/>
<circle cx="408.4" cy="497.1" r="2.5" fill="#da2523" stroke="#4a2c2c" stroke-width="0.35"/>
<circle cx="417.1" cy="495.5" r="2.5" fill="#da2523" stroke="#4a2c2c" stroke-width="0.35"/>
<circle cx="413.4" cy="499.5" r="2.5" fill="#da2523" stroke="#4a2c2c" stroke-width="0.35"/>
<circle cx="362.6" cy="506.2" r="2.5" fill="#da2523" stroke="#4a2c2c" stroke-width="0.35"/>
<circle cx="377.1" cy="500.9" r="2.5" fill="#da2523" stroke="#4a2c2c" stroke-width="0.35"/>
<circle cx="386.3" cy="500.5" r="2.5" fill="#da2523" stroke="#4a2c2c" stroke-width="0.35"/>
<circle cx="391.1" cy="502.3" r="2.5" fill="#da2523" stroke="#4a2c2c" stroke-width="0.35"/>
<circle cx="392.4" cy="505.8" r="2.5" fill="#da2523" stroke="#4a2c2c" stroke-width="0.35"/>
<circle cx="404.7" cy="501.8" r="2.5" fill="#da2523" stroke="#4a2c2c" stroke-width="0.35"/>
<circle cx="413.4" cy="500.9" r="2.5" fill="#da2523" stroke="#4a2c2c" stroke-width="0.35"/>
<circle cx="416" cy="502.3" r="2.5" fill="#da2523" stroke="#4a2c2c" stroke-width="0.35"/>
<circle cx="383.8" cy="457.1" r="2.5" fill="#059dd0" stroke="#4a2c2c" stroke-width="0.35"/>
<circle cx="375.4" cy="461.1" r="2.5" fill="#059dd0" stroke="#4a2c2c" stroke-width="0.35"/>
<circle cx="378.1" cy="460.4" r="2.5" fill="#059dd0" stroke="#4a2c2c" stroke-width="0.35"/>
<circle cx="384.1" cy="463.8" r="2.5" fill="#059dd0" stroke="#4a2c2c" stroke-width="0.35"/>
<circle cx="375.8" cy="467.8" r="2.5" fill="#059dd0" stroke="#4a2c2c" stroke-width="0.35"/>
<circle cx="372.1" cy="469.5" r="2.5" fill="#059dd0" stroke="#4a2c2c" stroke-width="0.35"/>
<circle cx="373.1" cy="470" r="2.5" fill="#059dd0" stroke="#4a2c2c" stroke-width="0.35"/>
<circle cx="375.8" cy="468.4" r="2.5" fill="#059dd0" stroke="#4a2c2c" stroke-width="0.35"/>
<circle cx="378.8" cy="472.4" r="2.5" fill="#059dd0" stroke="#4a2c2c" stroke-width="0.35"/>
<circle cx="375.1" cy="477.5" r="2.5" fill="#059dd0" stroke="#4a2c2c" stroke-width="0.35"/>
<circle cx="382.8" cy="477.7" r="2.5" fill="#059dd0" stroke="#4a2c2c" stroke-width="0.35"/>
<circle cx="386.1" cy="475.4" r="2.5" fill="#059dd0" stroke="#4a2c2c" stroke-width="0.35"/>
<circle cx="385.5" cy="479.4" r="2.5" fill="#059dd0" stroke="#4a2c2c" stroke-width="0.35"/>
<circle cx="379.4" cy="484.7" r="2.5" fill="#059dd0" stroke="#4a2c2c" stroke-width="0.35"/>
<circle cx="384.8" cy="486.1" r="2.5" fill="#059dd0" stroke="#4a2c2c" stroke-width="0.35"/>
<circle cx="387.8" cy="486.8" r="2.5" fill="#059dd0" stroke="#4a2c2c" stroke-width="0.35"/>
<circle cx="379.4" cy="489.8" r="2.5" fill="#059dd0" stroke="#4a2c2c" stroke-width="0.35"/>
<circle cx="386.1" cy="490.1" r="2.5" fill="#059dd0" stroke="#4a2c2c" stroke-width="0.35"/>
<circle cx="376.4" cy="495.1" r="2.5" fill="#059dd0" stroke="#4a2c2c" stroke-width="0.35"/>
<circle cx="385.1" cy="495.1" r="2.5" fill="#059dd0" stroke="#4a2c2c" stroke-width="0.35"/>
<circle cx="392" cy="480.4" r="2.5" fill="#059dd0" stroke="#4a2c2c" stroke-width="0.35"/>
<circle cx="393" cy="485.8" r="2.5" fill="#059dd0" stroke="#4a2c2c" stroke-width="0.35"/>
<circle cx="390.7" cy="488.8" r="2.5" fill="#059dd0" stroke="#4a2c2c" stroke-width="0.35"/>
<circle cx="392.4" cy="494.1" r="2.5" fill="#059dd0" stroke="#4a2c2c" stroke-width="0.35"/>
<circle cx="397.1" cy="497.8" r="2.5" fill="#059dd0" stroke="#4a2c2c" stroke-width="0.35"/>
<circle cx="399.4" cy="497.1" r="2.5" fill="#059dd0" stroke="#4a2c2c" stroke-width="0.35"/>
<circle cx="405.4" cy="499.1" r="2.5" fill="#059dd0" stroke="#4a2c2c" stroke-width="0.35"/>
<circle cx="405.5" cy="500.5" r="2.5" fill="#059dd0" stroke="#4a2c2c" stroke-width="0.35"/>
<circle cx="401" cy="507.5" r="2.5" fill="#059dd0" stroke="#4a2c2c" stroke-width="0.35"/>
<circle cx="403.3" cy="514.8" r="2.5" fill="#059dd0" stroke="#4a2c2c" stroke-width="0.35"/>
<circle cx="390.5" cy="492.3" r="2.5" fill="#059dd0" stroke="#4a2c2c" stroke-width="0.35"/>
<circle cx="395.4" cy="494.6" r="2.5" fill="#059dd0" stroke="#4a2c2c" stroke-width="0.35"/>
<circle cx="552.8" cy="318.8" r="4.1" fill="#da2523" stroke="#4a2c2c" stroke-width="0.5"/>
<circle cx="552.8" cy="336.6" r="4.1" fill="#059dd0" stroke="#4a2c2c" stroke-width="0.5"/>
<text x="563.3" y="322.2" font-family="Liberation Serif" font-size="9.5" fill="#2b2323">DY-1</text>
<text x="563.3" y="340" font-family="Liberation Serif" font-size="9.5" fill="#2b2323">FY-1</text>
</svg>
</body></html>
